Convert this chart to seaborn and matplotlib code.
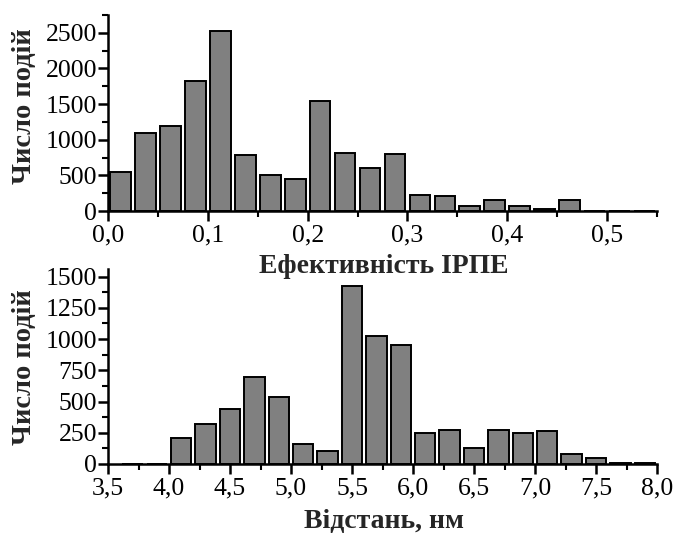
import matplotlib
matplotlib.use("Agg")
import matplotlib.pyplot as plt
import seaborn as sns
import numpy as np
import pandas as pd
from matplotlib.ticker import MultipleLocator, FuncFormatter

# ---- data ----
eff_centers = [0.0125, 0.0375, 0.0625, 0.0875, 0.1125, 0.1375, 0.1625, 0.1875,
               0.2125, 0.2375, 0.2625, 0.2875, 0.3125, 0.3375, 0.3625, 0.3875,
               0.4125, 0.4375, 0.4625, 0.4875, 0.5125, 0.5375]
eff_counts = [550, 1090, 1190, 1820, 2520, 790, 510, 450,
              1550, 810, 606, 805, 229, 215, 75, 160,
              75, 28, 160, 0, 0, 5]
dist_centers = [3.7, 3.9, 4.1, 4.3, 4.5, 4.7, 4.9, 5.1, 5.3, 5.5, 5.7,
                5.9, 6.1, 6.3, 6.5, 6.7, 6.9, 7.1, 7.3, 7.5, 7.7, 7.9]
dist_counts = [3, 4, 207, 319, 438, 694, 536, 161, 106, 1421, 1024,
               956, 250, 270, 128, 275, 248, 261, 82, 49, 11, 5]
eff_bin_w = 0.025
dist_bin_w = 0.2
ylabel_text = "Число подій"
eff_xlabel = "Ефективність ІРПЕ"
dist_xlabel = "Відстань, нм"

sns.set_theme(style="ticks")
plt.rcParams['font.family'] = ['Liberation Serif', 'DejaVu Serif']
plt.rcParams['font.size'] = 18

fig = plt.figure(figsize=(6.73, 5.33), dpi=100)
fig.patch.set_facecolor("white")
W, H = 673, 533
ax1 = fig.add_axes([108 / W, 1 - 211 / H, (657 - 108) / W, (211 - 15) / H])
ax2 = fig.add_axes([108 / W, 1 - 464 / H, (657 - 108) / W, (464 - 269) / H])

def draw(ax, centers, counts, bw, xlim, ylim, xmaj, xmin, ymaj, ymin, fmt, xlabel,
         ylab_y, xlab_y):
    df = pd.DataFrame({"c": centers, "n": counts})
    edges = [round(centers[0] - bw / 2 + i * bw, 6) for i in range(len(centers) + 1)]
    sns.histplot(data=df, x="c", weights="n", bins=edges, shrink=0.83, ax=ax,
                 color="#808080", edgecolor="black", linewidth=1.4, alpha=1)
    ax.set_xlim(*xlim)
    ax.set_ylim(*ylim)
    ax.xaxis.set_major_locator(MultipleLocator(xmaj))
    ax.xaxis.set_minor_locator(MultipleLocator(xmin))
    ax.yaxis.set_major_locator(MultipleLocator(ymaj))
    ax.yaxis.set_minor_locator(MultipleLocator(ymin))
    ax.xaxis.set_major_formatter(FuncFormatter(lambda v, p: (fmt % v).replace('.', ',')))
    ax.yaxis.set_major_formatter(FuncFormatter(lambda v, p: "%d" % v))
    for s in ["top", "right"]:
        ax.spines[s].set_visible(False)
    for s in ["left", "bottom"]:
        ax.spines[s].set_linewidth(1.8)
        ax.spines[s].set_color("black")
    ax.tick_params(which="major", direction="out", length=7, width=1.8, labelsize=18.5,
                   colors="black")
    ax.tick_params(axis="y", which="major", pad=1)
    ax.tick_params(axis="x", which="major", pad=3)
    ax.tick_params(which="minor", direction="out", length=4, width=1.5, colors="black")
    ax.set_ylabel(ylabel_text, fontsize=20.5, fontweight="bold")
    ax.set_xlabel(xlabel, fontsize=20, fontweight="bold")
    ax.yaxis.set_label_coords(-0.130, ylab_y)
    ax.xaxis.set_label_coords(0.502, xlab_y)
    ax.set_facecolor("none")

draw(ax1, eff_centers, eff_counts, eff_bin_w, (0, 0.55), (0, 2750),
     0.1, 0.05, 500, 250, "%.1f", eff_xlabel, 0.533, -0.219)
draw(ax2, dist_centers, dist_counts, dist_bin_w, (3.5, 8.0), (0, 1560),
     0.5, 0.25, 250, 125, "%.1f", dist_xlabel, 0.495, -0.231)
ax1.set_zorder(3)

fig.savefig("out.png", dpi=100, facecolor="white")
